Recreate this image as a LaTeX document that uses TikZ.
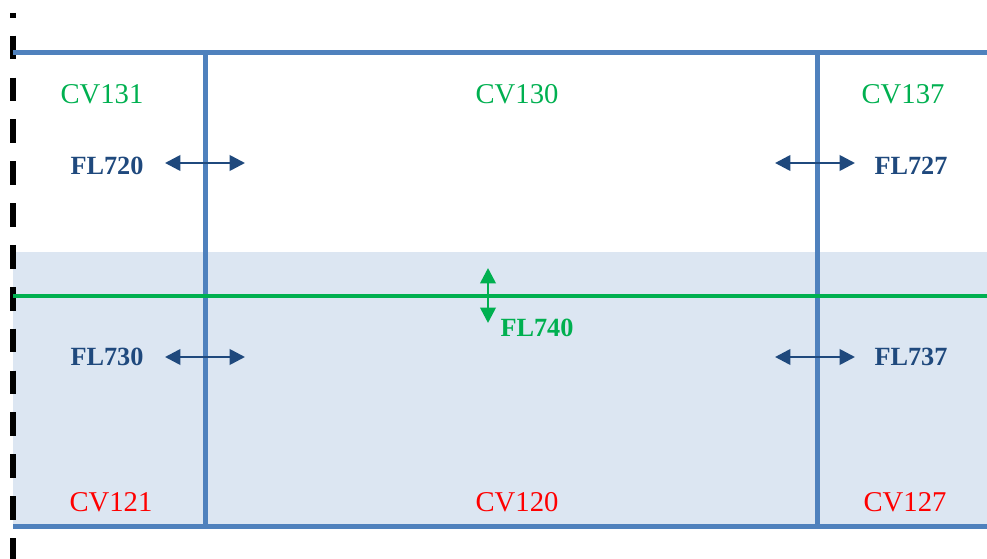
\documentclass[tikz,border=0pt]{standalone}
\usepackage{fontspec}
\setmainfont{Liberation Serif}
\usetikzlibrary{arrows.meta}

\definecolor{wallblue}{HTML}{4F81BD}
\definecolor{poolfill}{HTML}{DCE6F2}
\definecolor{flowblue}{HTML}{1F497D}
\definecolor{levelgreen}{HTML}{00B050}

\begin{document}
\begin{tikzpicture}[
    x=0.75pt, y=-0.75pt,
    wall/.style={line width=3.75pt, wallblue},
    level/.style={line width=3pt, levelgreen},
    border/.style={line width=4.2pt, black,
        dash pattern=on 17.8pt off 13.6pt, dash phase=14.4pt},
    flow/.style={line width=2pt, flowblue,
        {Triangle[length=11.5pt, width=11.5pt]}-{Triangle[length=11.5pt, width=11.5pt]}},
    cvtop/.style={font=\fontsize{21.5}{24}\selectfont, text=levelgreen},
    cvbot/.style={font=\fontsize{21.5}{24}\selectfont, text=red},
    fllbl/.style={font=\fontsize{19.7}{22}\selectfont\bfseries, text=flowblue},
]
\useasboundingbox (0,0) rectangle (987,559);

% Corners of the rooms
\coordinate (nw) at (13,53);
\coordinate (ne) at (987,53);
\coordinate (sw) at (13,526);
\coordinate (se) at (987,526);
\coordinate (lt) at (205,53);
\coordinate (lb) at (205,526);
\coordinate (rt) at (817,53);
\coordinate (rb) at (817,526);

% Water region and level
\coordinate (wtop) at (13,252);
\coordinate (gw) at (13,296);
\coordinate (ge) at (987,296);
\fill[poolfill] (wtop) rectangle (se);

% Outer boundary
\coordinate (bt) at (13,13);
\coordinate (bb) at (13,559);
\draw[border] (bt) -- (bb);

% Walls
\draw[wall] (nw) -- (ne);
\draw[wall] (sw) -- (se);
\draw[wall] (lt) -- (lb);
\draw[wall] (rt) -- (rb);
\draw[level] (gw) -- (ge);

% Volume labels
\node[cvtop] (cv131) at (102,94) {CV131};
\node[cvtop] (cv130) at (517,94) {CV130};
\node[cvtop] (cv137) at (903,94) {CV137};
\node[cvbot] (cv121) at (111,502) {CV121};
\node[cvbot] (cv120) at (517,502) {CV120};
\node[cvbot] (cv127) at (905,502) {CV127};

% Flow paths
\coordinate (f720a) at (165,163);
\coordinate (f720b) at (245,163);
\coordinate (f727a) at (775,163);
\coordinate (f727b) at (855,163);
\coordinate (f730a) at (165,357);
\coordinate (f730b) at (245,357);
\coordinate (f737a) at (775,357);
\coordinate (f737b) at (855,357);
\coordinate (f740a) at (488,268);
\coordinate (f740b) at (488,323);

\draw[flow] (f720a) -- (f720b);
\draw[flow] (f727a) -- (f727b);
\draw[flow] (f730a) -- (f730b);
\draw[flow] (f737a) -- (f737b);
\draw[flow, levelgreen] (f740a) -- (f740b);

\node[fllbl] (fl720) at (107,166) {FL720};
\node[fllbl] (fl727) at (911,166) {FL727};
\node[fllbl] (fl730) at (107,357) {FL730};
\node[fllbl] (fl737) at (911,357) {FL737};
\node[fllbl, text=levelgreen] (fl740) at (537,328) {FL740};

\end{tikzpicture}
\end{document}
